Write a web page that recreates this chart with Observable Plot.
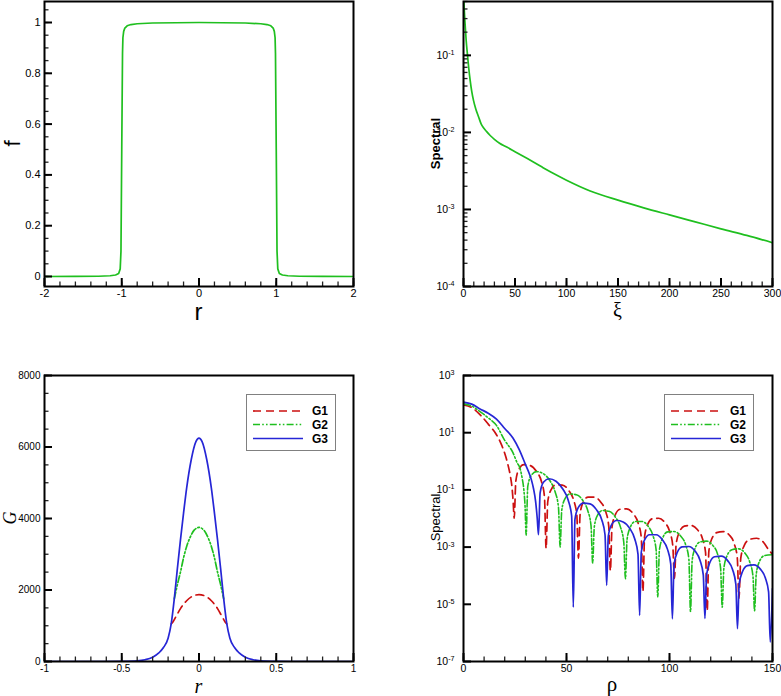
<!DOCTYPE html>
<html><head><meta charset="utf-8">
<script src="https://cdn.jsdelivr.net/npm/d3@7"></script>
<script src="https://cdn.jsdelivr.net/npm/@observablehq/plot@0.6"></script>
<style>
html,body{margin:0;padding:0;background:#fff;}
#wrap{position:relative;width:781px;height:696px;overflow:hidden;background:#fff;}
.panel{position:absolute;}
.panel svg{display:block;overflow:visible;}
</style></head><body><div id="wrap"></div>
<script>
// ---------- Panel 1: f(r) ----------
const fR   = [-2, -1.6, -1.3, -1.15, -1.08, -1.04, -1.02, -1.01, -1.0, -0.99, -0.985, -0.975, -0.96, -0.93, -0.88, -0.8, -0.6, -0.3, 0, 0.3, 0.6, 0.8, 0.88, 0.93, 0.96, 0.975, 0.985, 0.99, 1.0, 1.01, 1.02, 1.04, 1.08, 1.15, 1.3, 1.6, 2];
const fVal = [0, 0.0005, 0.001, 0.003, 0.006, 0.012, 0.03, 0.1, 0.5, 0.88, 0.94, 0.965, 0.978, 0.987, 0.992, 0.995, 0.998, 0.999, 1.0, 0.999, 0.998, 0.995, 0.992, 0.987, 0.978, 0.965, 0.94, 0.88, 0.5, 0.1, 0.03, 0.012, 0.006, 0.003, 0.001, 0.0005, 0];
const p1XTicks = [-2, -1, 0, 1, 2];
const p1YTicks = [0, 0.2, 0.4, 0.6, 0.8, 1];

// ---------- Panel 2: spectral vs xi ----------
const xi   = [0.3, 0.65, 1.5, 2.6, 3.9, 5, 6.5, 8, 9.7, 12, 14.6, 17, 19.4, 22.5, 25.9, 30, 35, 42, 50, 62, 75, 87, 100, 123, 150, 175, 200, 225, 250, 275, 300];
const spec = [0.55, 0.42, 0.26, 0.156, 0.1, 0.07, 0.047, 0.034, 0.026, 0.02, 0.016, 0.013, 0.01148, 0.01023, 0.00912, 0.00813, 0.00724, 0.00646, 0.00562, 0.00457, 0.00363, 0.00295, 0.0024, 0.00174, 0.00132, 0.00105, 0.00085, 0.00069, 0.00056, 0.00046, 0.00037];
const p2XTicks = [0, 50, 100, 150, 200, 250, 300];
const p2YTicks = [1e-4, 1e-3, 1e-2, 1e-1];

// ---------- Panel 3: G(r) ----------
const r3 = [-1, -0.6, -0.5, -0.4, -0.35, -0.3, -0.26, -0.23, -0.2, -0.18, -0.16, -0.14, -0.12, -0.1, -0.08, -0.05, -0.02, 0, 0.02, 0.05, 0.08, 0.1, 0.12, 0.14, 0.16, 0.18, 0.2, 0.23, 0.26, 0.3, 0.35, 0.4, 0.5, 0.6, 1];
const g3 = [0, 0, 4, 20, 50, 120, 240, 390, 650, 1050, 1750, 2600, 3400, 4150, 4850, 5650, 6150, 6250, 6150, 5650, 4850, 4150, 3400, 2600, 1750, 1050, 650, 390, 240, 120, 50, 20, 4, 0, 0];
const r2 = [-0.16, -0.155, -0.14, -0.12, -0.1, -0.08, -0.06, -0.03, 0, 0.03, 0.06, 0.08, 0.1, 0.12, 0.14, 0.155, 0.16];
const g2 = [1750, 1850, 2150, 2500, 2900, 3220, 3450, 3680, 3750, 3680, 3450, 3220, 2900, 2500, 2150, 1850, 1750];
const r1 = [-0.18, -0.17, -0.15, -0.12, -0.08, -0.04, 0, 0.04, 0.08, 0.12, 0.15, 0.17, 0.18];
const g1 = [1050, 1100, 1250, 1480, 1700, 1830, 1870, 1830, 1700, 1480, 1250, 1100, 1050];
const p3XTicks = [-1, -0.5, 0, 0.5, 1];
const p3YTicks = [0, 2000, 4000, 6000, 8000];

// ---------- Panel 4: spectral vs rho ----------
const rhoG1 = [0,4,8,12,16,18,20,21.5,22.7,23.5,24.1, 24.6, 25.4,26.9,29.25,32.35,35.45,37.8,39.3, 40.1, 40.9,42.5,44.8,47.95,51.1,53.4,55.0, 55.8, 56.6,58.1,60.45,63.55,66.65,69.0,70.5, 71.3, 72.1,73.7,76.0,79.2,82.4,84.7,86.3, 87.1, 87.9,89.4,91.7,94.75,97.8,100.1,101.6, 102.4, 103.2,104.8,107.2,110.35,113.5,115.9,117.5, 118.3, 119.1,120.6,122.9,126.0,129.1,131.4,132.9, 133.7, 134.6,136.3,138.9,142.3,145.6,148.0,150];
const specG1 = [93,76,43,20,8.5,4.5,1.9,0.8,0.32,0.13,0.04, 0.0102, 0.204,0.525,0.76,0.71,0.437,0.20,0.059, 9.1e-4, 0.0385,0.101,0.151,0.148,0.0955,0.0452,0.0136, 4.1e-4, 0.0138,0.0372,0.056,0.056,0.0372,0.0178,5.5e-3, 1.5e-4, 5.1e-3,0.0136,0.0211,0.0216,0.0146,7.2e-3,2.2e-3, 2.8e-5, 2.3e-3,6.2e-3,9.8e-3,0.0102,7.1e-3,3.5e-3,1.1e-3, 8.1e-5, 1.22e-3,3.35e-3,5.4e-3,5.75e-3,4.1e-3,2.07e-3,6.5e-4, 6.0e-6, 7.1e-4,2.0e-3,3.2e-3,3.5e-3,2.6e-3,1.32e-3,4.3e-4, 1.6e-5, 4.1e-4,1.15e-3,1.86e-3,2.04e-3,1.48e-3,8.3e-4,5.6e-4];
const rhoG2 = [0,4,8,12,16,20,24,26,27.5,28.5,29.3,29.9, 30.4, 31.2,32.9,35.4,38.65,41.95,44.4,46.1, 46.9, 47.7,49.3,51.6,54.8,58.0,60.3,61.9, 62.7, 63.5,65.1,67.5,70.65,73.8,76.2,77.8, 78.6, 79.4,81.0,83.3,86.45,89.6,91.9,93.5, 94.3, 95.1,96.7,99.1,102.25,105.4,107.8,109.4, 110.2, 111.0,112.5,114.8,117.9,121.0,123.3,124.8, 125.6, 126.4,128.0,130.3,133.45,136.6,138.9,140.5, 141.3, 142.1,143.7,146.0,150];
const specG2 = [102,85,55,33,18,5.4,2.0,0.9,0.55,0.25,0.1,0.025, 2.6e-3, 0.132,0.324,0.437,0.372,0.209,0.089,0.025, 1.0e-3, 0.0195,0.050,0.072,0.068,0.0417,0.019,5.6e-3, 2.8e-4, 5.1e-3,0.0132,0.019,0.0178,0.011,5.0e-3,1.48e-3, 7.8e-5, 1.86e-3,5.0e-3,7.8e-3,7.9e-3,5.4e-3,2.6e-3,8.1e-4, 1.8e-5, 7.9e-4,2.1e-3,3.4e-3,3.5e-3,2.45e-3,1.23e-3,3.8e-4, 5.6e-6, 3.4e-4,9.4e-4,1.51e-3,1.62e-3,1.15e-3,5.8e-4,1.84e-4, 7.9e-6, 1.84e-4,5.1e-4,8.1e-4,8.7e-4,6.2e-4,3.1e-4,9.9e-5, 6.0e-6, 1.12e-4,3.2e-4,5.0e-4,5.4e-4];
const rhoG3 = [0,4,8,12,16,20,24,27,30,32,33,34,35,35.8, 36.4, 37.2,38.9,41.5,44.9,48.2,50.8,52.5, 53.3, 54.1,55.7,58.2,61.4,64.6,67.1,68.7, 69.5, 70.3,71.9,74.3,77.5,80.7,83.1,84.7, 85.5, 86.3,87.9,90.3,93.5,96.6,99.0,100.6, 101.4, 102.2,103.8,106.1,109.3,112.5,114.8,116.4, 117.2, 118.0,119.6,121.9,125.1,128.3,130.6,132.2, 133.0, 133.8,135.4,137.8,141.0,144.1,146.5,148.1, 148.9, 150];
const specG3 = [117,100,68,48,30,14,6.5,2.6,0.8,0.36,0.22,0.11,0.04,0.01, 2.7e-3, 0.0785,0.188,0.245,0.20,0.107,0.0442,0.0122, 7.9e-6, 9.3e-3,0.024,0.0347,0.0324,0.020,9.1e-3,2.7e-3, 4.6e-5, 2.43e-3,6.1e-3,8.5e-3,7.6e-3,4.5e-3,1.97e-3,5.7e-4, 4.1e-6, 6.6e-4,1.78e-3,2.7e-3,2.7e-3,1.78e-3,8.5e-4,2.6e-4, 3.1e-6, 2.45e-4,6.6e-4,1.02e-3,1.05e-3,7.1e-4,3.5e-4,1.07e-4, 3.2e-6, 1.07e-4,2.9e-4,4.6e-4,4.8e-4,3.3e-4,1.66e-4,5.1e-5, 1.4e-6, 5.0e-5,1.38e-4,2.24e-4,2.4e-4,1.7e-4,8.5e-5,2.7e-5, 4.8e-7, 3.5e-5];
const p4XTicks = [0, 50, 100, 150];
const p4YTicks = [1e-7, 1e-5, 1e-3, 1e-1, 1e1, 1e3];

const seriesNames = ["G1", "G2", "G3"];

// ---------- styles ----------
const RED = "#cc1010", GREEN = "#1fbf1f", BLUE = "#2626d6";
const DASH_G1 = "8,5", DASH_G2 = "7,2.2,1.6,2.2,1.6,2.2";
const styleOf = {G1: {stroke: RED, dash: DASH_G1}, G2: {stroke: GREEN, dash: DASH_G2}, G3: {stroke: BLUE, dash: null}};

const SANS = '"Liberation Sans", Arial, Helvetica, sans-serif';
const SERIF = '"Liberation Serif", "Times New Roman", serif';
const wrap = document.getElementById("wrap");
const zip = (xs, ys) => xs.map((x, i) => ({x, y: ys[i]}));
const fmtPlain = d => String(d);
const fmtPow = d => "10^" + Math.round(Math.log10(d));
const MAJ = 8, MIN = 4.5;

function logMinor(lo, hi) {
  const out = [];
  for (let e = Math.floor(Math.log10(lo)); e <= Math.ceil(Math.log10(hi)); e++)
    for (let k = 2; k <= 9; k++) { const v = k * Math.pow(10, e); if (v >= lo && v <= hi) out.push(v); }
  return out;
}

// Inward tick marks (tickX/tickY shortened by insets) + label-only axes + frame
function axes(o, fw, fh) {
  const m = [];
  if (o.xMinor) m.push(Plot.tickX(o.xMinor, {x: d => d, insetTop: fh - MIN, stroke: "#222", strokeWidth: 1.3}));
  m.push(Plot.tickX(o.xTicks, {x: d => d, insetTop: fh - MAJ, stroke: "black", strokeWidth: 2}));
  if (o.yMinor) m.push(Plot.tickY(o.yMinor, {y: d => d, insetRight: fw - MIN, stroke: "#222", strokeWidth: 1.3}));
  m.push(Plot.tickY(o.yTicks, {y: d => d, insetRight: fw - MAJ, stroke: "black", strokeWidth: 2}));
  m.push(Plot.axisX({ticks: o.xTicks, tickSize: 0, tickPadding: o.xPad ?? 4, tickFormat: o.xFmt, label: null}));
  m.push(Plot.axisY({ticks: o.yTicks, tickSize: 0, tickPadding: o.yPad ?? 4, tickFormat: o.yFmt, label: null}));
  m.push(Plot.frame({stroke: "black", strokeWidth: 2}));
  return m;
}

function supers(svg) {
  svg.querySelectorAll("text").forEach(t => {
    const m = /^10\^(-?\d+)$/.exec(t.textContent);
    if (!m) return;
    t.textContent = "10";
    const ts = document.createElementNS("http://www.w3.org/2000/svg", "tspan");
    ts.setAttribute("dy", "-0.55em");
    ts.setAttribute("font-size", "0.68em");
    ts.textContent = m[1];
    t.appendChild(ts);
  });
}

function addText(svg, {x, y, text, size, family = SANS, weight = "normal", italic = false, rotate = false}) {
  return d3.select(svg).append("text")
    .attr("transform", `translate(${x},${y})` + (rotate ? " rotate(-90)" : ""))
    .attr("text-anchor", "middle")
    .attr("font-family", family).attr("font-size", size).attr("font-weight", weight)
    .attr("font-style", italic ? "italic" : "normal").attr("fill", "black")
    .text(text);
}

function place(node, left, top) {
  const d = document.createElement("div");
  d.className = "panel"; d.style.left = left + "px"; d.style.top = top + "px";
  d.appendChild(node); wrap.appendChild(d); return d;
}

function legendBox(left, top) {
  const w = 89, h = 56, rows = [17, 30.5, 44.5];
  const svg = d3.create("svg").attr("width", w + 2).attr("height", h + 2).style("position", "absolute")
    .style("left", left + "px").style("top", top + "px").style("overflow", "visible");
  svg.append("rect").attr("x", 0.5).attr("y", 0.5).attr("width", w).attr("height", h)
    .attr("fill", "white").attr("stroke", "#808080").attr("stroke-width", 1);
  seriesNames.forEach((name, i) => {
    const s = styleOf[name];
    svg.append("line").attr("x1", 7).attr("x2", 57).attr("y1", rows[i]).attr("y2", rows[i])
      .attr("stroke", s.stroke).attr("stroke-width", 1.7).attr("stroke-dasharray", s.dash);
    svg.append("text").attr("x", 66).attr("y", rows[i] + 4.2).attr("font-family", SANS)
      .attr("font-weight", "bold").attr("font-size", 12).attr("fill", "black").text(name);
  });
  wrap.appendChild(svg.node());
}

const baseStyle = fs => ({fontFamily: SANS, fontSize: fs + "px", color: "black", background: "white", overflow: "visible"});

function panel(cfg, marks, axisOpts) {
  const fw = cfg.width - cfg.marginLeft - cfg.marginRight;
  const fh = cfg.height - cfg.marginTop - cfg.marginBottom;
  return Plot.plot({...cfg, marks: [...marks, ...axes(axisOpts, fw, fh)]});
}

// ---------- Panel 1 ----------
{
  const svg = panel({
    width: 390, height: 320, marginLeft: 44, marginRight: 37, marginTop: 1, marginBottom: 34,
    x: {domain: [-2, 2], axis: null}, y: {domain: [-0.0394, 1.0827], axis: null},
    style: baseStyle(11)
  }, [
    Plot.line(zip(fR, fVal), {x: "x", y: "y", stroke: GREEN, strokeWidth: 1.7, clip: true})
  ], {xTicks: p1XTicks, xMinor: d3.range(-2, 2.001, 0.2), xFmt: fmtPlain, xPad: 3,
      yTicks: p1YTicks, yMinor: d3.range(0, 1.08, 0.05), yFmt: fmtPlain});
  addText(svg, {x: 20, y: 143.5, text: "f", size: 22, rotate: true});
  addText(svg, {x: 198.5, y: 320, text: "r", size: 24});
  place(svg, 0, 0);
}

// ---------- Panel 2 ----------
{
  const svg = panel({
    width: 391, height: 320, marginLeft: 73, marginRight: 9, marginTop: 1, marginBottom: 34,
    x: {domain: [0, 300], axis: null}, y: {type: "log", domain: [1e-4, 0.5], axis: null},
    style: baseStyle(10.5)
  }, [
    Plot.line(zip(xi, spec), {x: "x", y: "y", stroke: GREEN, strokeWidth: 1.7, curve: "monotone-x", clip: true})
  ], {xTicks: p2XTicks, xMinor: d3.range(0, 301, 10), xFmt: fmtPlain, xPad: 3,
      yTicks: p2YTicks, yMinor: logMinor(1e-4, 0.5), yFmt: fmtPow, yPad: 9});
  supers(svg);
  addText(svg, {x: 50, y: 143.5, text: "Spectral", size: 13, weight: "bold", rotate: true});
  addText(svg, {x: 227.5, y: 317, text: "ξ", size: 20, family: SERIF});
  place(svg, 390, 0);
}

// ---------- Panel 3 ----------
{
  const svg = panel({
    width: 390, height: 336, marginLeft: 44, marginRight: 37, marginTop: 15, marginBottom: 35,
    x: {domain: [-1, 1], axis: null}, y: {domain: [0, 8000], axis: null},
    style: baseStyle(10)
  }, [
    Plot.line(zip(r1, g1), {x: "x", y: "y", stroke: RED, strokeWidth: 1.7, strokeDasharray: DASH_G1, curve: "monotone-x", clip: true}),
    Plot.line(zip(r2, g2), {x: "x", y: "y", stroke: GREEN, strokeWidth: 1.7, strokeDasharray: DASH_G2, curve: "monotone-x", clip: true}),
    Plot.line(zip(r3, g3), {x: "x", y: "y", stroke: BLUE, strokeWidth: 1.7, curve: "monotone-x", clip: true})
  ], {xTicks: p3XTicks, xMinor: d3.range(-1, 1.001, 0.1), xFmt: fmtPlain, xPad: 3,
      yTicks: p3YTicks, yMinor: d3.range(0, 8001, 500), yFmt: fmtPlain});
  addText(svg, {x: 16, y: 158, text: "G", size: 18, family: SERIF, italic: true, rotate: true});
  addText(svg, {x: 198.5, y: 333, text: "r", size: 20, family: SERIF, italic: true});
  place(svg, 0, 360);
  legendBox(246, 394);
}

// ---------- Panel 4 ----------
{
  const svg = panel({
    width: 391, height: 336, marginLeft: 73, marginRight: 9, marginTop: 15, marginBottom: 35,
    x: {domain: [0, 150], axis: null}, y: {type: "log", domain: [1e-7, 1e3], axis: null},
    style: baseStyle(10.5)
  }, [
    Plot.line(zip(rhoG1, specG1), {x: "x", y: "y", stroke: RED, strokeWidth: 1.7, strokeDasharray: DASH_G1, curve: "monotone-x", clip: true}),
    Plot.line(zip(rhoG2, specG2), {x: "x", y: "y", stroke: GREEN, strokeWidth: 1.6, strokeDasharray: DASH_G2, curve: "monotone-x", clip: true}),
    Plot.line(zip(rhoG3, specG3), {x: "x", y: "y", stroke: BLUE, strokeWidth: 1.7, curve: "monotone-x", clip: true})
  ], {xTicks: p4XTicks, xMinor: d3.range(0, 151, 10), xFmt: fmtPlain, xPad: 3,
      yTicks: p4YTicks, yFmt: fmtPow, yPad: 9});
  supers(svg);
  addText(svg, {x: 50, y: 157.5, text: "Spectral", size: 13, rotate: true});
  addText(svg, {x: 222, y: 331, text: "ρ", size: 21, family: SERIF});
  place(svg, 390, 360);
  legendBox(664, 394);
}
</script>
</body></html>
